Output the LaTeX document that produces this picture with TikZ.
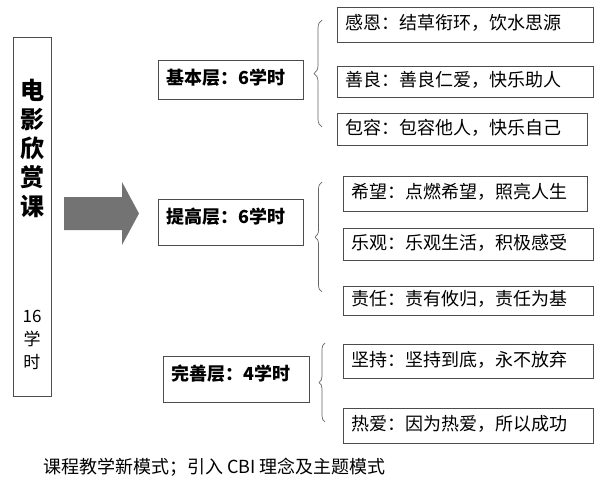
\documentclass[tikz,border=0pt]{standalone}
\usepackage{fontspec}
\setmainfont{Noto Sans CJK SC}
\usetikzlibrary{decorations.pathreplacing}

\begin{document}
\begin{tikzpicture}[x=1pt, y=-1pt,
  box/.style={draw=black!70, line width=0.9pt},
  lvl/.style={box, anchor=north west, font=\bfseries\fontsize{18}{18}\selectfont,
    inner xsep=8pt, inner ysep=4pt, align=left, text height=20pt, text depth=#1},
  item/.style={box, anchor=north west, font=\fontsize{18}{18}\selectfont,
    inner xsep=8pt, inner ysep=0pt, align=left, text height=14pt, text depth=4pt},
  brc/.style={draw=black!60, line width=0.7pt, decorate, decoration={brace, amplitude=#1}}]
%\draw [lightgray](0,0) grid (600,483);
\useasboundingbox (0,0) rectangle (600,483);

% course
\node [box, anchor=north west, minimum width=38pt, minimum height=359pt] (course) at (13,37) {};
\node [font=\bfseries\fontsize{24}{29}\selectfont, align=center] (title) at (32,148) {电\\影\\欣\\赏\\课};
\node [font=\fontsize{17}{23}\selectfont, align=center] (hours) at (32,340) {16\\学\\时};

\fill [black!55] (64,197) -- (122,197) -- (122,182) -- (139,213.5) -- (122,245) -- (122,230) -- (64,230) -- cycle;

% levels
\node [lvl=11pt, text width=129pt] (basic) at (158,60) {基本层：6学时};
\node [lvl=18pt, text width=129pt] (raise) at (158,199) {提高层：6学时};
\node [lvl=18pt, text width=130pt] (perfect) at (163,356) {完善层：4学时};

\draw [brc=8pt] (322,127) -- (322,20);
\draw [brc=7pt] (322,292) -- (322,182);
\draw [brc=6pt] (325,422) -- (325,343);

% items
\node [item, text width=240pt, minimum height=35pt] (gratitude) at (337,7) {感恩：结草衔环，饮水思源};
\node [item, text width=240pt, minimum height=31pt] (kindness) at (337,66) {善良：善良仁爱，快乐助人};
\node [item, text width=234pt, minimum height=32pt] (tolerance) at (337,113) {包容：包容他人，快乐自己};
\node [item, text width=228pt, minimum height=35pt] (hope) at (343,176) {希望：点燃希望，照亮人生};
\node [item, text width=234pt, minimum height=32pt] (optimism) at (343,228) {乐观：乐观生活，积极感受};
\node [item, text width=234pt, minimum height=29pt] (duty) at (343,286) {责任：责有攸归，责任为基};
\node [item, text width=234pt, minimum height=34pt] (persist) at (343,344) {坚持：坚持到底，永不放弃};
\node [item, text width=234pt, minimum height=35pt] (passion) at (343,408) {热爱：因为热爱，所以成功};

\node [anchor=west, font=\fontsize{18}{18}\selectfont, inner sep=0pt] (caption) at (43,467) {课程教学新模式；引入 CBI 理念及主题模式};

\end{tikzpicture}
\end{document}
